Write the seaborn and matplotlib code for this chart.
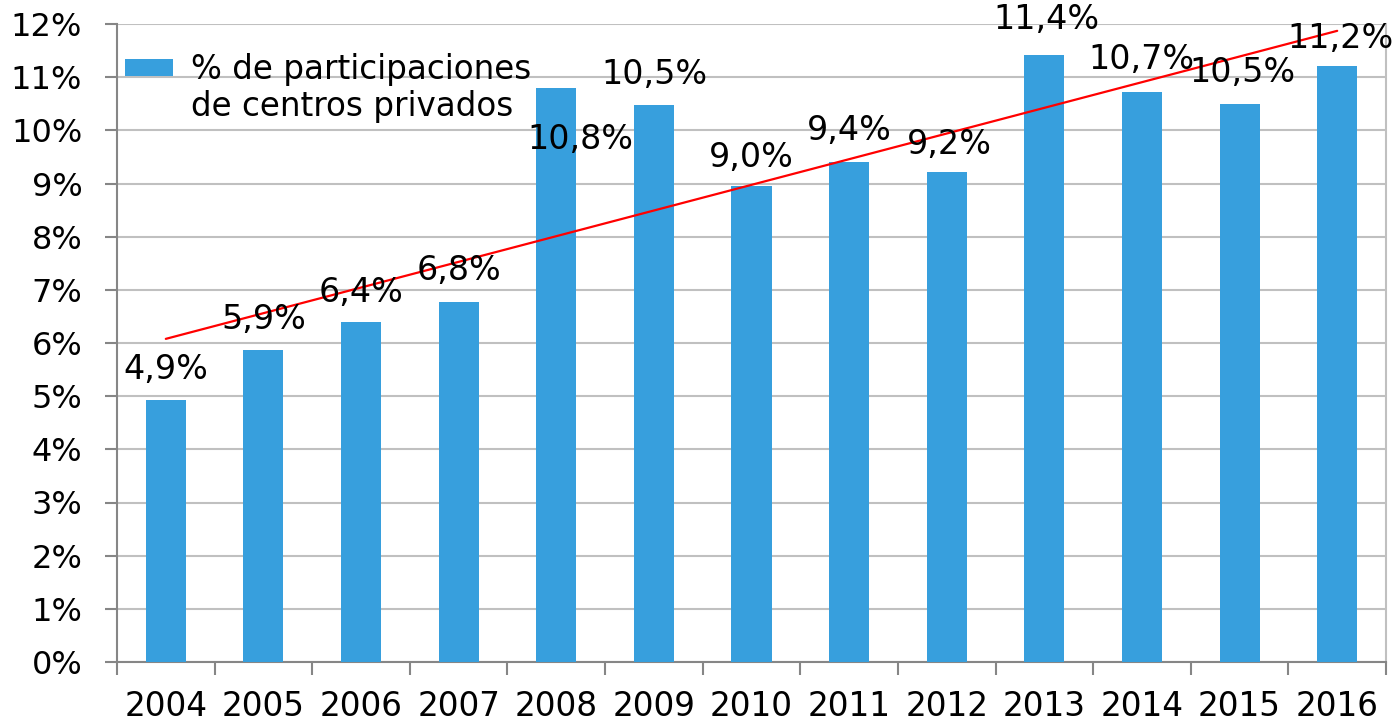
import numpy as np
import pandas as pd
import matplotlib
matplotlib.use("Agg")
import matplotlib.pyplot as plt
from matplotlib.patches import Patch
import seaborn as sns

# data
years  = ['2004', '2005', '2006', '2007', '2008', '2009', '2010',
          '2011', '2012', '2013', '2014', '2015', '2016']
values = [4.93, 5.87, 6.39, 6.77, 10.80, 10.48, 8.96,
          9.40, 9.22, 11.41, 10.73, 10.50, 11.21]
legend_lines = ['% de participaciones', 'de centros privados']

# label offsets (pixels) relative to bar top, as placed in the original
label_dx = [0, 0, 0, 0, 24, 1, 0, 0, 3, 2, -1, 3, 3]
label_dy = [30, 30, 30, 32, -52, 30, 28, 32, 27, 36, 32, 31, 28]

bar_color  = '#379FDD'
grid_color = '#C0C0C0'
axis_color = '#868686'
fs_tick  = 23
fs_label = 24
fs_leg   = 23.5

sns.set_theme(style='white')
plt.rcParams['font.family'] = ['DejaVu Sans']
plt.rcParams['text.color'] = 'black'
plt.rcParams['xtick.color'] = 'black'
plt.rcParams['ytick.color'] = 'black'

df = pd.DataFrame({'year': years, 'value': values})

fig = plt.figure(figsize=(13.96, 7.21), dpi=100)
ax = fig.add_axes([117 / 1396, 1 - 662 / 721, (1386 - 117) / 1396, (662 - 24) / 721])

sns.barplot(data=df, x='year', y='value', color=bar_color, width=0.41,
            saturation=1, linewidth=0, ax=ax, zorder=3)

# linear trend line
xs = np.arange(len(values))
slope, inter = np.polyfit(xs, values, 1)
ax.plot([xs[0], xs[-1]], [inter, inter + slope * xs[-1]], color='#FF0000', lw=1.6, zorder=4)

for i, v in enumerate(values):
    ax.annotate(f'{v:.1f}%'.replace('.', ','), (i, v),
                xytext=(label_dx[i], label_dy[i]), textcoords='offset pixels',
                ha='center', va='center', fontsize=fs_label, color='black', zorder=5)

ax.set_xlim(-0.49, 12.46)
ax.set_ylim(0, 12)
ax.set_yticks(range(0, 13))
ax.set_yticklabels([f'{t}%' for t in range(0, 13)], fontsize=fs_tick)
ax.set_xticks(xs)
ax.set_xticklabels(years, fontsize=fs_tick + 0.5)
ax.set_xticks(np.arange(-0.5, 13, 1), minor=True)
ax.tick_params(axis='x', which='major', length=0, pad=20)
ax.tick_params(axis='x', which='minor', length=9, width=1.5, color=axis_color, direction='out', bottom=True)
ax.tick_params(axis='y', length=9, width=1.5, color=axis_color, direction='out', left=True, pad=16)
ax.set_xlabel('')
ax.set_ylabel('')

ax.yaxis.grid(True, color=grid_color, lw=1.5, zorder=0)
ax.set_axisbelow(True)
for side in ['left', 'bottom']:
    ax.spines[side].set_color(axis_color)
    ax.spines[side].set_linewidth(1.5)
ax.spines['top'].set_visible(False)
ax.spines['right'].set_color(grid_color)
ax.spines['right'].set_linewidth(1.5)

handles = [Patch(facecolor=bar_color, edgecolor='none'),
           Patch(facecolor='none', edgecolor='none')]
ax.legend(handles, legend_lines, loc='upper left', bbox_to_anchor=(-0.0095, 0.985),
          frameon=False, fontsize=fs_leg,
          handlelength=1.5, handleheight=0.45, handletextpad=0.55,
          borderaxespad=0.2, labelspacing=0.12)

fig.savefig('out.png', dpi=100)
